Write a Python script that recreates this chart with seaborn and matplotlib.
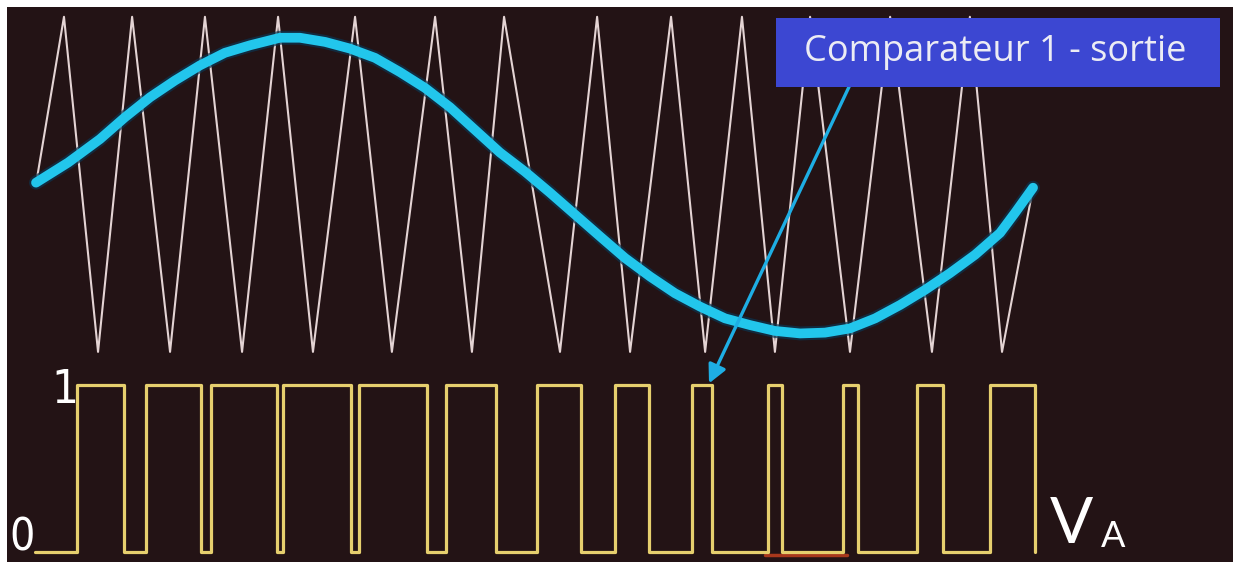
import numpy as np
import pandas as pd
import matplotlib
matplotlib.use("Agg")
import matplotlib.pyplot as plt
from matplotlib.patches import Rectangle
import seaborn as sns

# ---------------- data (phase angle in degrees) ----------------
# carrier (triangle) vertices
tri_deg = [0.5, 10.1, 22.4, 34.7, 48.4, 61.0, 74.4, 87.4, 100.0, 115.2, 128.5, 144.1,
           157.4, 169.0, 189.2, 202.6, 214.5, 229.3, 241.6, 254.9, 266.8, 279.5,
           293.9, 308.4, 323.5, 337.2, 348.8, 360.0]
tri_val = [0.05, 1, -1, 1, -1, 1, -1, 1, -1, 1, -1, 1,
           -1, 1, -1, 1, -1, 1, -1, 1, -1, 1,
           -1, 1, -1, 1, -1, -0.02]

# reference (sine) samples
sin_deg = [0.0, 11.6, 23.1, 32.1, 41.2, 50.2, 59.2, 68.2, 77.3, 88.1, 95.3, 104.4,
           113.4, 122.4, 131.4, 140.5, 149.5, 158.5, 167.5, 176.6, 185.6, 194.6,
           203.6, 212.7, 221.7, 230.7, 239.8, 248.8, 257.8, 266.8, 275.9, 284.9,
           293.9, 303.0, 312.0, 321.0, 330.0, 339.1, 348.1, 353.5, 360.0]
sin_val = [0.01, 0.13, 0.27, 0.40, 0.52, 0.62, 0.71, 0.785, 0.83, 0.875, 0.875, 0.85,
           0.81, 0.755, 0.67, 0.575, 0.46, 0.325, 0.19, 0.075, -0.05, -0.18,
           -0.31, -0.44, -0.55, -0.65, -0.73, -0.80, -0.84, -0.875, -0.89, -0.885,
           -0.86, -0.80, -0.72, -0.63, -0.53, -0.42, -0.29, -0.17, -0.02]

# comparator output: switching instants and levels
sw_start = -0.4
rise_deg = [14.8, 39.7, 63.2, 89.2, 116.6, 148.0, 181.0, 209.1, 236.9, 264.3, 291.4, 318.1, 344.5]
fall_deg = [31.8, 59.6, 87.0, 113.7, 141.2, 166.1, 196.8, 221.3, 244.1, 269.4, 296.8, 327.5, 360.7]
low_level, high_level = 0, 1

# faint red segment under the low level
red_deg = [263.2, 292.8]
red_val = [-0.02, -0.02]

label_text = "Comparateur 1 - sortie"

# ---------------- build tables ----------------
tri_df = pd.DataFrame({"deg": tri_deg, "v": tri_val})
sin_df = pd.DataFrame({"deg": sin_deg, "v": sin_val})
sq_x, sq_y = [sw_start], [low_level]
for r, f in zip(rise_deg, fall_deg):
    sq_x += [r, r, f, f]
    sq_y += [low_level, high_level, high_level, low_level]
sq_df = pd.DataFrame({"deg": sq_x, "v": sq_y})
red_df = pd.DataFrame({"deg": red_deg, "v": red_val})

# ---------------- figure ----------------
sns.set_style("dark")
W, H = 1233, 562
fig = plt.figure(figsize=(W / 100, H / 100), dpi=100)
fig.patch.set_facecolor("white")
BG = "#231315"
fig.add_artist(Rectangle((7 / W, 0), 1 - 7 / W, 1 - 7 / H, transform=fig.transFigure,
                         facecolor=BG, edgecolor="none", zorder=-10))

XLIM = (-13.0, 432.2)
ax_top = fig.add_axes([0, 0.356, 1, 0.632])
ax_bot = fig.add_axes([0, 0.0, 1, 0.3505])
for ax in (ax_top, ax_bot):
    ax.set_facecolor("none")
    ax.set_xlim(*XLIM)
    ax.set_axis_off()
ax_top.set_ylim(-1.06, 1.06)
ax_bot.set_ylim(-0.06, 1.12)

# triangle carrier
sns.lineplot(data=tri_df, x="deg", y="v", ax=ax_top, sort=False, estimator=None,
             color="#e4d4d4", lw=1.5, solid_joinstyle="round")
# sine reference with dark halo
sns.lineplot(data=sin_df, x="deg", y="v", ax=ax_top, sort=False, estimator=None,
             color="#0b3550", lw=10, alpha=0.7, solid_capstyle="round", solid_joinstyle="round")
sns.lineplot(data=sin_df, x="deg", y="v", ax=ax_top, sort=False, estimator=None,
             color="#22c6ec", lw=7, solid_capstyle="round", solid_joinstyle="round")

# comparator output
sns.lineplot(data=red_df, x="deg", y="v", ax=ax_bot, sort=False, estimator=None,
             color="#a8381c", lw=2.5)
sns.lineplot(data=sq_df, x="deg", y="v", ax=ax_bot, sort=False, estimator=None,
             color="#e6cf6e", lw=2.3, solid_joinstyle="round", solid_capstyle="round")

# level labels
ax_bot.text(10.5, 0.97, "1", color="white", fontsize=34, ha="center", va="center",
            family=["DejaVu Sans"], fontstretch="condensed")
ax_bot.text(-5.0, 0.085, "0", color="white", fontsize=32, ha="center", va="center",
            family=["DejaVu Sans"], fontstretch="condensed")
ax_bot.text(373.7, 0.16, "V", color="white", fontsize=46, ha="center", va="center",
            family=["Lato", "DejaVu Sans"], fontweight="normal")
ax_bot.text(388.9, 0.09, "A", color="white", fontsize=26, ha="center", va="center",
            family=["Lato", "DejaVu Sans"], fontweight="normal")

# arrow from the label box to a pulse
ax_bot.annotate("", xy=(243.0, 1.01), xycoords=ax_bot.transData,
                xytext=(293.9, 0.594), textcoords=ax_top.transData,
                arrowprops=dict(arrowstyle="-|>,head_length=1.1,head_width=0.55",
                                color="#1eaee4", lw=2.4, shrinkA=0, shrinkB=0),
                zorder=4)

# label box
fig.add_artist(Rectangle((776 / W, 1 - 87 / H), (1220 - 776) / W, 69 / H,
                         transform=fig.transFigure, facecolor="#3c47d2",
                         edgecolor="none", zorder=5))
fig.text(995 / W, 1 - 52 / H, label_text, color="#ececf4", fontsize=26,
         ha="center", va="center", family=["Open Sans", "DejaVu Sans"], zorder=6)

fig.savefig("out.png", dpi=100, facecolor=fig.get_facecolor())
